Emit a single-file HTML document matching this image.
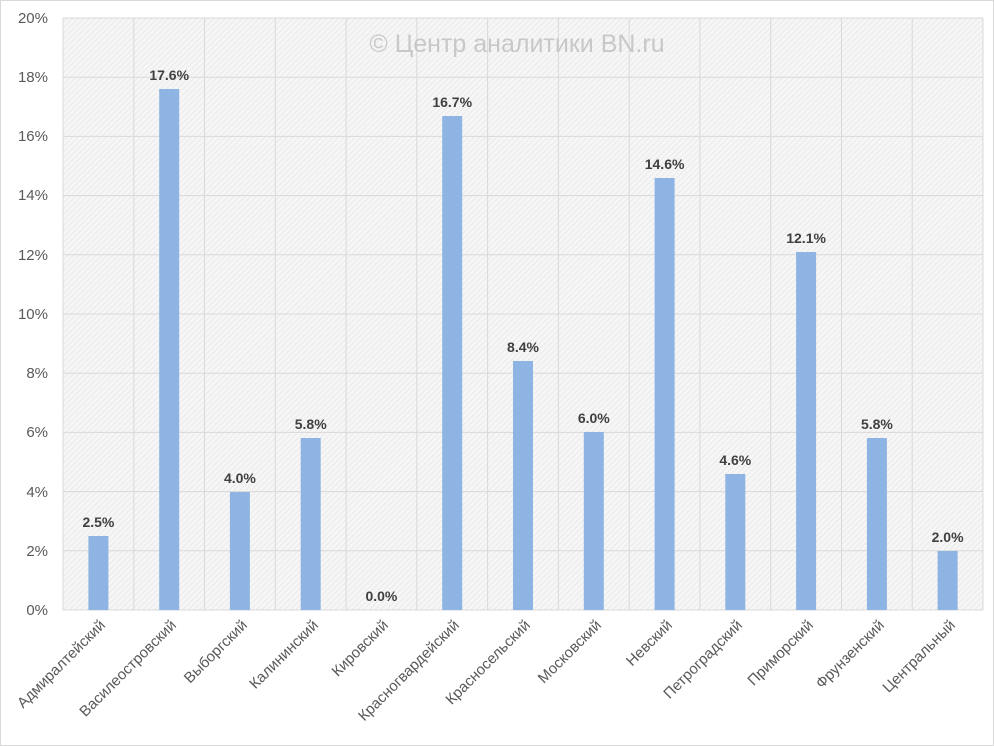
<!DOCTYPE html>
<html><head><meta charset="utf-8"><style>
html,body{margin:0;padding:0;background:#fff}
svg{display:block;font-family:"Liberation Sans","DejaVu Sans",sans-serif}
</style></head><body>
<svg width="994" height="746" viewBox="0 0 994 746">
<defs>
<pattern id="h" width="4" height="4" patternUnits="userSpaceOnUse" patternTransform="rotate(45)">
<rect width="4" height="4" fill="#f6f6f6"/>
<line x1="0" y1="0" x2="0" y2="4" stroke="#e2e2e2" stroke-width="1.2"/>
</pattern>
</defs>
<rect x="0.5" y="0.5" width="993" height="745" fill="#fff" stroke="#d9d9d9"/>
<rect x="63" y="18" width="920" height="592" fill="url(#h)"/>
<g stroke="#d9d9d9" stroke-width="1">
<line x1="63" y1="18" x2="983" y2="18"/><line x1="63" y1="77.2" x2="983" y2="77.2"/>
<line x1="63" y1="136.4" x2="983" y2="136.4"/><line x1="63" y1="195.6" x2="983" y2="195.6"/>
<line x1="63" y1="254.8" x2="983" y2="254.8"/><line x1="63" y1="314" x2="983" y2="314"/>
<line x1="63" y1="373.2" x2="983" y2="373.2"/><line x1="63" y1="432.4" x2="983" y2="432.4"/>
<line x1="63" y1="491.6" x2="983" y2="491.6"/><line x1="63" y1="550.8" x2="983" y2="550.8"/>
<line x1="63" y1="610" x2="983" y2="610"/>
<line x1="63" y1="18" x2="63" y2="610"/><line x1="133.8" y1="18" x2="133.8" y2="610"/>
<line x1="204.5" y1="18" x2="204.5" y2="610"/><line x1="275.3" y1="18" x2="275.3" y2="610"/>
<line x1="346.1" y1="18" x2="346.1" y2="610"/><line x1="416.8" y1="18" x2="416.8" y2="610"/>
<line x1="487.6" y1="18" x2="487.6" y2="610"/><line x1="558.4" y1="18" x2="558.4" y2="610"/>
<line x1="629.2" y1="18" x2="629.2" y2="610"/><line x1="699.9" y1="18" x2="699.9" y2="610"/>
<line x1="770.7" y1="18" x2="770.7" y2="610"/><line x1="841.5" y1="18" x2="841.5" y2="610"/>
<line x1="912.2" y1="18" x2="912.2" y2="610"/><line x1="983" y1="18" x2="983" y2="610"/>
</g>
<text x="517" y="52" font-size="25" fill="#c8c8c8" text-anchor="middle">© Центр аналитики BN.ru</text>
<g font-size="15" fill="#595959" text-anchor="end">
<text x="48" y="23">20%</text><text x="48" y="82">18%</text><text x="48" y="141">16%</text>
<text x="48" y="200">14%</text><text x="48" y="260">12%</text><text x="48" y="319">10%</text>
<text x="48" y="378">8%</text><text x="48" y="437">6%</text><text x="48" y="497">4%</text>
<text x="48" y="556">2%</text><text x="48" y="615">0%</text>
</g>
<g fill="#8eb4e3">
<rect x="88.4" y="536" width="20" height="74"/>
<rect x="159.2" y="89" width="20" height="521"/>
<rect x="229.9" y="492" width="20" height="118"/>
<rect x="300.7" y="438" width="20" height="172"/>
<rect x="442.2" y="116" width="20" height="494"/>
<rect x="513" y="361" width="20" height="249"/>
<rect x="583.8" y="432" width="20" height="178"/>
<rect x="654.6" y="178" width="20" height="432"/>
<rect x="725.3" y="474" width="20" height="136"/>
<rect x="796.1" y="252" width="20" height="358"/>
<rect x="866.9" y="438" width="20" height="172"/>
<rect x="937.6" y="551" width="20" height="59"/>
</g>
<g font-size="14" font-weight="bold" fill="#404040" text-anchor="middle">
<text x="98.4" y="527">2.5%</text><text x="169.2" y="80">17.6%</text>
<text x="239.9" y="483">4.0%</text><text x="310.7" y="429">5.8%</text>
<text x="381.4" y="601">0.0%</text><text x="452.2" y="107">16.7%</text>
<text x="523" y="352">8.4%</text><text x="593.8" y="423">6.0%</text>
<text x="664.6" y="169">14.6%</text><text x="735.3" y="465">4.6%</text>
<text x="806.1" y="243">12.1%</text><text x="876.9" y="429">5.8%</text>
<text x="947.6" y="542">2.0%</text>
</g>
<g font-size="15" fill="#595959" text-anchor="end">
<text transform="translate(106,626) rotate(-45)">Адмиралтейский</text>
<text transform="translate(177,626) rotate(-45)">Василеостровский</text>
<text transform="translate(248,626) rotate(-45)">Выборгский</text>
<text transform="translate(319,626) rotate(-45)">Калининский</text>
<text transform="translate(389,626) rotate(-45)">Кировский</text>
<text transform="translate(460,626) rotate(-45)">Красногвардейский</text>
<text transform="translate(531,626) rotate(-45)">Красносельский</text>
<text transform="translate(602,626) rotate(-45)">Московский</text>
<text transform="translate(673,626) rotate(-45)">Невский</text>
<text transform="translate(743,626) rotate(-45)">Петроградский</text>
<text transform="translate(814,626) rotate(-45)">Приморский</text>
<text transform="translate(885,626) rotate(-45)">Фрунзенский</text>
<text transform="translate(956,626) rotate(-45)">Центральный</text>
</g>
</svg>
</body></html>
